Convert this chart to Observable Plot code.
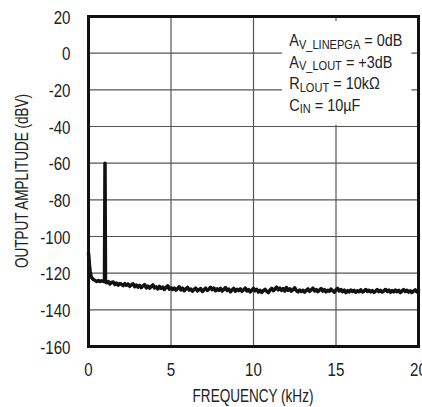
<!DOCTYPE html>
<html><head><meta charset="utf-8">
<script src="https://cdn.jsdelivr.net/npm/d3@7"></script>
<script src="https://cdn.jsdelivr.net/npm/@observablehq/plot@0.6"></script>
<style>
html,body{margin:0;padding:0;background:#fff;overflow:hidden;}
#chart svg{display:block;}
</style></head><body><div id="chart"></div>
<script>
// Frequency (kHz) of each sample
const freqKHz = [
  0, 0.03, 0.06, 0.1, 0.15, 0.2, 0.3, 0.4, 0.5, 0.6, 0.7, 0.8, 0.9, 0.97, 1.0, 1.03,
  1.1, 1.2, 1.3, 1.4, 1.5, 1.6, 1.7, 1.8, 1.9, 2.0,
  2.1, 2.2, 2.3, 2.4, 2.5, 2.6, 2.7, 2.8, 2.9, 3.0,
  3.1, 3.2, 3.3, 3.4, 3.5, 3.6, 3.7, 3.8, 3.9, 4.0,
  4.1, 4.2, 4.3, 4.4, 4.5, 4.6, 4.7, 4.8, 4.9, 5.0,
  5.1, 5.2, 5.3, 5.4, 5.5, 5.6, 5.7, 5.8, 5.9, 6.0,
  6.1, 6.2, 6.3, 6.4, 6.5, 6.6, 6.7, 6.8, 6.9, 7.0,
  7.1, 7.2, 7.3, 7.4, 7.5, 7.6, 7.7, 7.8, 7.9, 8.0,
  8.1, 8.2, 8.3, 8.4, 8.5, 8.6, 8.7, 8.8, 8.9, 9.0,
  9.1, 9.2, 9.3, 9.4, 9.5, 9.6, 9.7, 9.8, 9.9, 10.0,
  10.1, 10.2, 10.3, 10.4, 10.5, 10.6, 10.7, 10.8, 10.9, 11.0,
  11.1, 11.2, 11.3, 11.4, 11.5, 11.6, 11.7, 11.8, 11.9, 12.0,
  12.1, 12.2, 12.3, 12.4, 12.5, 12.6, 12.7, 12.8, 12.9, 13.0,
  13.1, 13.2, 13.3, 13.4, 13.5, 13.6, 13.7, 13.8, 13.9, 14.0,
  14.1, 14.2, 14.3, 14.4, 14.5, 14.6, 14.7, 14.8, 14.9, 15.0,
  15.1, 15.2, 15.3, 15.4, 15.5, 15.6, 15.7, 15.8, 15.9, 16.0,
  16.1, 16.2, 16.3, 16.4, 16.5, 16.6, 16.7, 16.8, 16.9, 17.0,
  17.1, 17.2, 17.3, 17.4, 17.5, 17.6, 17.7, 17.8, 17.9, 18.0,
  18.1, 18.2, 18.3, 18.4, 18.5, 18.6, 18.7, 18.8, 18.9, 19.0,
  19.1, 19.2, 19.3, 19.4, 19.5, 19.6, 19.7, 19.8, 19.9, 20.0
];
// Output amplitude (dBV) at each sample
const levelDBV = [
  -109, -112, -116, -119, -121.5, -122.5, -123.5, -124, -124.5, -124, -124.5, -124.2, -124.5, -124.5, -60, -124.8,
  -125.2, -124.6, -125.9, -125.1, -124.8, -126.2, -125.4, -126.5, -125.6, -126.1,
  -126.8, -125.7, -126.6, -125.9, -127.2, -126.3, -125.8, -127.4, -126.5, -127.6,
  -126.7, -127.9, -126.9, -126.2, -128, -127.1, -128.2, -127.3, -126.4, -128.1,
  -127.5, -128.6, -127.2, -128.3, -127.6, -128.9, -127.8, -126.9, -128.7, -128,
  -128.9, -128.1, -129.3, -128.4, -127.4, -129.1, -128.2, -129.6, -128.6, -127.8,
  -129.2, -128.7, -129.8, -128.8, -128.1, -129.7, -129, -128.4, -130, -129.1,
  -128.2, -129.4, -128.6, -127.7, -129, -128.1, -129.6, -128.5, -129.3, -128.3,
  -129.7, -128.9, -127.9, -129.4, -128.7, -130.1, -129.2, -128.3, -129.8, -128.8,
  -129.5, -128.6, -129.9, -129.1, -128.2, -129.7, -129, -130.2, -129.3, -128.3,
  -129.6, -128.8, -130.3, -129.4, -130.5, -129.5, -128.8, -129.9, -130.6, -129.2,
  -128.3, -129.5, -128.7, -127.6, -129.1, -128.2, -129.4, -128.4, -129.7, -127.9,
  -129.3, -128.5, -129.8, -128.9, -128, -129.5, -130.2, -129.2, -130, -129.3,
  -130.3, -129.4, -128.6, -129.9, -129.1, -128.2, -129.7, -128.9, -130.1, -129.2,
  -128.4, -129.8, -129, -130.2, -129.3, -129.9, -128.7, -129.6, -130.4, -129.1,
  -128.3, -129.7, -128.9, -130.1, -129.3, -130.6, -129.5, -130.2, -129.2, -130,
  -129.4, -130.4, -129.6, -130.1, -129.1, -130.3, -129.8, -128.9, -130, -129.3,
  -130.2, -129.5, -130.5, -129.8, -129, -130.1, -129.4, -130.3, -129.6, -128.9,
  -130, -129.3, -130.4, -129.5, -130.2, -129.2, -130.1, -129.4, -130.6, -129.7,
  -129, -130, -129.3, -130.3, -129.6, -130.5, -129.8, -129.1, -130.2, -129.5
];
const xTicks = [0, 5, 10, 15, 20];
const yTicks = [20, 0, -20, -40, -60, -80, -100, -120, -140, -160];
const xLabel = "FREQUENCY (kHz)";
const yLabel = "OUTPUT AMPLITUDE (dBV)";
const legendMain = ["A", "A", "R", "C"];
const legendSub = ["V_LINEPGA", "V_LOUT", "LOUT", "IN"];
const legendRest = [" = 0dB", " = +3dB", " = 10k\u03A9", " = 10\u00B5F"];

const FONT = '"Liberation Sans",Arial,Helvetica,sans-serif';
const data = freqKHz.map((f, i) => ({f, v: levelDBV[i]}));
const legendBox = [{x1: 11.75, x2: 19.6, y1: 17.3, y2: -39.4}];

const plot = Plot.plot({
  width: 422, height: 407,
  marginLeft: 88, marginRight: 4, marginTop: 16, marginBottom: 61,
  style: {fontFamily: FONT, fontSize: "18px", color: "#222", background: "#fff", overflow: "visible"},
  x: {domain: [0, 20], label: null},
  y: {domain: [-160, 20], label: null},
  marks: [
    Plot.gridX(xTicks, {stroke: "#555", strokeOpacity: 1, strokeWidth: 1.2}),
    Plot.gridY(yTicks, {stroke: "#555", strokeOpacity: 1, strokeWidth: 1.2}),
    Plot.rect(legendBox, {x1: "x1", x2: "x2", y1: "y1", y2: "y2", fill: "#fff"}),
    Plot.line(data, {x: "f", y: "v", stroke: "#111", strokeWidth: 3.5, strokeLinejoin: "round"}),
    Plot.frame({stroke: "#111", strokeWidth: 3}),
    Plot.axisX(xTicks, {tickSize: 0, tickPadding: 17, label: null, fontSize: 18, fill: "#222", tickFormat: d => `${d}`}),
    Plot.axisY(yTicks, {tickSize: 0, tickPadding: 18, label: null, fontSize: 18, fill: "#222", dy: 1.5, tickFormat: d => `${d}`})
  ]
});
document.getElementById("chart").appendChild(plot);

// condense the library's tick labels (Helvetica Condensed look), scaling about each label's anchor
d3.select(plot).selectAll("text").each(function () {
  const t = this.getAttribute("transform") || "";
  this.setAttribute("transform", t + " scale(0.84,1)");
});

const svg = d3.select(plot);
const sx = plot.scale("x"), sy = plot.scale("y");
const x0 = sx.apply(0), x20 = sx.apply(20);
const yTop = sy.apply(20), yBot = sy.apply(-160);

// axis titles
svg.append("text")
  .attr("transform", `translate(${(x0 + x20) / 2},${yBot + 56}) scale(0.77,1)`)
  .attr("text-anchor", "middle").attr("fill", "#222")
  .style("font-family", FONT).style("font-size", "17.6px")
  .text(xLabel);
svg.append("text")
  .attr("transform", `translate(28,${(yTop + yBot) / 2}) rotate(-90) scale(0.77,1)`)
  .attr("text-anchor", "middle").attr("fill", "#222")
  .style("font-family", FONT).style("font-size", "17.6px")
  .text(yLabel);

// annotation
const ax = sx.apply(12.2), ay = sy.apply(3.6);
legendMain.forEach((m, i) => {
  const t = svg.append("text")
    .attr("transform", `translate(${ax},${ay + i * 21.5}) scale(0.85,1)`)
    .attr("text-anchor", "start").attr("fill", "#222")
    .style("font-family", FONT).style("font-size", "17px");
  t.append("tspan").text(m);
  t.append("tspan").attr("dy", 2.5).style("font-size", "13px").text(legendSub[i]);
  t.append("tspan").attr("dy", -2.5).text(legendRest[i]);
});
</script>
</body></html>
